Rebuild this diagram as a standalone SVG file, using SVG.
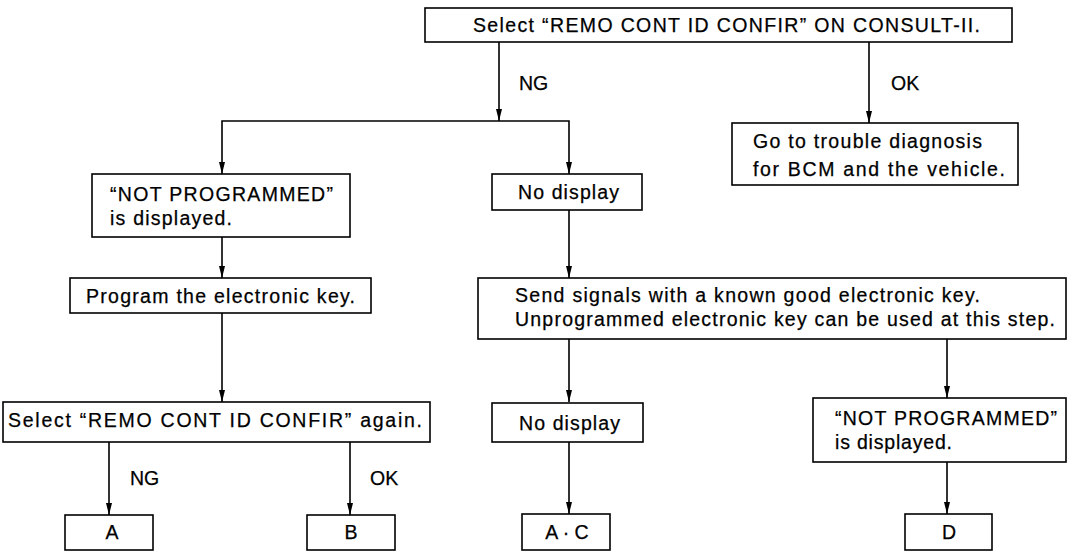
<svg xmlns="http://www.w3.org/2000/svg" width="1070" height="551" viewBox="0 0 1070 551">
<style>
.box{fill:#fff;stroke:#000;stroke-width:1.6}
.ln{fill:none;stroke:#000;stroke-width:1.6}
.t{font-family:"Liberation Sans",Arial,Helvetica,sans-serif;font-size:19.5px;fill:#000;stroke:#000;stroke-width:0.25}
.c{text-anchor:middle}
</style>
<rect width="1070" height="551" fill="#fff"/>
<g id="connectors">
<path class="ln" d="M499,42 V121"/>
<path class="ln" d="M222,174 V121 H569 V174"/>
<path class="ln" d="M869,42 V123"/>
<path class="ln" d="M222,237 V278"/>
<path class="ln" d="M222,313 V402"/>
<path class="ln" d="M569,210 V278"/>
<path class="ln" d="M569,339 V402"/>
<path class="ln" d="M947,339 V398"/>
<path class="ln" d="M109,442 V515"/>
<path class="ln" d="M350,442 V515"/>
<path class="ln" d="M569,442 V514"/>
<path class="ln" d="M947,462 V514"/>
<g fill="#000">
<path d="M496,109 L502,109 L499,121 Z"/>
<path d="M219,162 L225,162 L222,174 Z"/>
<path d="M566,162 L572,162 L569,174 Z"/>
<path d="M866,111 L872,111 L869,123 Z"/>
<path d="M219,266 L225,266 L222,278 Z"/>
<path d="M219,390 L225,390 L222,402 Z"/>
<path d="M566,266 L572,266 L569,278 Z"/>
<path d="M566,390 L572,390 L569,402 Z"/>
<path d="M944,386 L950,386 L947,398 Z"/>
<path d="M106,503 L112,503 L109,515 Z"/>
<path d="M347,503 L353,503 L350,515 Z"/>
<path d="M566,502 L572,502 L569,514 Z"/>
<path d="M944,502 L950,502 L947,514 Z"/>
</g>
<text class="t" x="519" y="90">NG</text>
<text class="t" x="891" y="90">OK</text>
<text class="t" x="130" y="485">NG</text>
<text class="t" x="370" y="485">OK</text>
</g>
<g id="n-start">
<rect class="box" x="425" y="8" width="587" height="34"/>
<text class="t" x="473" y="32" textLength="507" lengthAdjust="spacing">Select “REMO CONT ID CONFIR” ON CONSULT-II.</text>
</g>
<g id="n-goto">
<rect class="box" x="732" y="123" width="286" height="62"/>
<text class="t" x="753" y="148" textLength="229" lengthAdjust="spacing">Go to trouble diagnosis</text>
<text class="t" x="753" y="176" textLength="252" lengthAdjust="spacing">for BCM and the vehicle.</text>
</g>
<g id="n-notprog1">
<rect class="box" x="92" y="174" width="258" height="63"/>
<text class="t" x="110" y="201" textLength="223" lengthAdjust="spacing">“NOT PROGRAMMED”</text>
<text class="t" x="110" y="225" textLength="122" lengthAdjust="spacing">is displayed.</text>
</g>
<g id="n-nodisp1">
<rect class="box" x="492" y="174" width="150" height="36"/>
<text class="t" x="518" y="199" textLength="101" lengthAdjust="spacing">No display</text>
</g>
<g id="n-program">
<rect class="box" x="70" y="278" width="301" height="35"/>
<text class="t" x="86" y="303" textLength="269" lengthAdjust="spacing">Program the electronic key.</text>
</g>
<g id="n-send">
<rect class="box" x="478" y="278" width="588" height="61"/>
<text class="t" x="515" y="302" textLength="465" lengthAdjust="spacing">Send signals with a known good electronic key.</text>
<text class="t" x="515" y="326" textLength="540" lengthAdjust="spacing">Unprogrammed electronic key can be used at this step.</text>
</g>
<g id="n-again">
<rect class="box" x="3" y="402" width="427" height="40"/>
<text class="t" x="8" y="427" textLength="414" lengthAdjust="spacing">Select “REMO CONT ID CONFIR” again.</text>
</g>
<g id="n-nodisp2">
<rect class="box" x="492" y="403" width="151" height="39"/>
<text class="t" x="519" y="430" textLength="101" lengthAdjust="spacing">No display</text>
</g>
<g id="n-notprog2">
<rect class="box" x="813" y="398" width="253" height="64"/>
<text class="t" x="835" y="425" textLength="222" lengthAdjust="spacing">“NOT PROGRAMMED”</text>
<text class="t" x="835" y="449" textLength="117" lengthAdjust="spacing">is displayed.</text>
</g>
<g id="n-A">
<rect class="box" x="65" y="515" width="88" height="35"/>
<text class="t c" x="112" y="539">A</text>
</g>
<g id="n-B">
<rect class="box" x="307" y="515" width="88" height="35"/>
<text class="t c" x="351" y="539">B</text>
</g>
<g id="n-AC">
<rect class="box" x="522" y="514" width="88" height="36"/>
<text class="t c" x="567" y="539">A · C</text>
</g>
<g id="n-D">
<rect class="box" x="905" y="514" width="87" height="36"/>
<text class="t c" x="949" y="539">D</text>
</g>
</svg>
